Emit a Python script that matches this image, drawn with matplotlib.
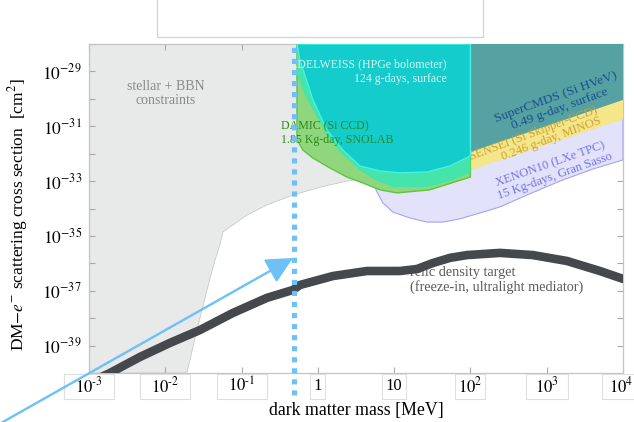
import matplotlib
matplotlib.use("Agg")
import matplotlib.pyplot as plt
from matplotlib.patches import Rectangle, FancyArrowPatch
from matplotlib.ticker import NullLocator, FixedLocator, FixedFormatter

plt.rcParams['font.family'] = ['Liberation Serif', 'DejaVu Serif']
plt.rcParams['mathtext.fontset'] = 'stix'

# ---------------- data (mass in MeV, cross section in cm^2) ----------------
# stellar + BBN excluded region: lower-right boundary
stellar_m = [1e-3, 0.0192, 0.0260, 0.0352, 0.0448, 0.0521, 0.0570, 0.118, 0.215,
             0.472, 1.066, 2.40, 4.40, 11.9, 100, 100, 1e-3]
stellar_s = [1e-40, 1e-40, 3.7e-39, 1.07e-37, 1.3e-36, 4.7e-36, 1.4e-35, 5.8e-35,
             1.35e-34, 3.1e-34, 6.0e-34, 1.0e-33, 1.29e-33, 2.1e-33, 5.9e-33, 1e-28, 1e-28]

# XENON10 region
xenon_m = [5.27, 5.95, 7.13, 9.64, 16.1, 26.9, 43.6, 72.8, 146, 244, 550, 1489, 4034,
           1e4, 1e4, 100, 5.0]
xenon_s = [9.3e-34, 4.0e-34, 1.6e-34, 7.4e-35, 4.5e-35, 3.2e-35, 3.2e-35, 4.2e-35,
           7.4e-35, 1.14e-34, 3.1e-34, 1.0e-33, 2.75e-33, 5.9e-33, 2.2e-31, 3.0e-33, 1.5e-33]

# SENSEI (Si Skipper-CCD) region
sensei_m = [100, 1e4, 1e4, 100]
sensei_s = [2.5e-33, 1.8e-31, 1e-28, 1e-28]

# SuperCDMS (Si HVeV) region
scdms_m = [100, 1e4, 1e4, 100]
scdms_s = [1.15e-32, 9.1e-31, 1e-28, 1e-28]

# DAMIC (Si CCD) region
damic_m = [0.532, 0.532, 0.638, 0.863, 1.441, 2.40, 3.90, 6.52, 10.9, 29.4, 100, 100]
damic_s = [1e-28, 3.2e-32, 1.35e-32, 6.9e-33, 3.0e-33, 1.41e-33, 8.5e-34, 4.8e-34,
           3.7e-34, 4.8e-34, 1.41e-33, 1e-28]

# overlap band (EDELWEISS over DAMIC)
band_m = [0.532, 0.532, 0.678, 0.863, 1.316, 2.13, 3.56, 5.60, 9.64, 26.9, 53.8, 100, 100]
band_s = [1e-28, 7.4e-30, 1.38e-30, 3.9e-31, 4.8e-32, 8.9e-33, 2.5e-33, 1.1e-33,
          6.0e-34, 6.0e-34, 1.0e-33, 2.0e-33, 1e-28]

# EDELWEISS (HPGe bolometer) region
edel_m = [0.532, 0.582, 0.863, 1.316, 2.13, 3.56, 6.52, 11.9, 26.9, 53.8, 100, 100]
edel_s = [1e-28, 2.6e-29, 9.1e-31, 7.2e-32, 1.35e-32, 3.55e-33, 2.34e-33, 2.0e-33,
          2.14e-33, 3.55e-33, 8.3e-33, 1e-28]

# relic density target (freeze-in, ultralight mediator)
relic_m = [0.0012, 0.00188, 0.00466, 0.0115, 0.0285, 0.077, 0.215, 0.472, 0.582, 1.578,
           4.40, 11.9, 19.9, 32.3, 53.8, 90, 244, 659, 1841, 4977, 1e4]
relic_s = [5.6e-41, 1e-40, 3.85e-40, 1.25e-39, 3.7e-39, 1.55e-38, 5.5e-38, 1.07e-37,
           1.62e-37, 3.45e-37, 5.25e-37, 5.25e-37, 6.2e-37, 1.03e-36, 1.58e-36, 2.0e-36,
           2.4e-36, 2.0e-36, 1.22e-36, 5.25e-37, 2.7e-37]

threshold_mass = 0.49  # MeV, dotted vertical line

x_ticks = [1e-3, 1e-2, 1e-1, 1, 10, 1e2, 1e3, 1e4]
x_tick_labels = [r'$10^{\text{-}3}$', r'$10^{\text{-}2}$', r'$10^{\text{-}1}$', '1', '10',
                 r'$10^{2}$', r'$10^{3}$', r'$10^{4}$']
y_ticks = [10.0 ** e for e in range(-40, -27)]
y_tick_labels = [r'$10^{%d}$' % e if e % 2 else '' for e in range(-40, -27)]

# --------------------------- figure ---------------------------
W, H = 634, 422
fig = plt.figure(figsize=(W / 100, H / 100), dpi=100)
ax = fig.add_axes([89 / W, 1 - 373 / H, 534 / W, 329 / H])
ax.set_xscale('log')
ax.set_yscale('log')
ax.set_xlim(1e-3, 1e4)
ax.set_ylim(1e-40, 1e-28)

ax.fill(stellar_m, stellar_s, fc='#e8e9e9', ec='#c9c9c9', lw=0.6, zorder=1)
ax.fill(xenon_m, xenon_s, fc='#e2e2fa', ec='#a4a4ee', lw=0.8, zorder=2)
ax.fill(sensei_m, sensei_s, fc='#f6e68a', ec='none', zorder=3)
ax.fill(scdms_m, scdms_s, fc='#56a2a2', ec='none', zorder=4)
ax.fill(damic_m, damic_s, fc='#90d67c', ec='#5ec43e', lw=1.0, zorder=5)
ax.fill(band_m, band_s, fc='#44e4aa', ec='none', zorder=6)
ax.fill(edel_m, edel_s, fc='#14cccc', ec='#44f2e2', lw=1.0, zorder=7)

ax.plot(relic_m, relic_s, color='#45484d', lw=6.2, solid_capstyle='round', zorder=9)

ax.axvline(threshold_mass, ymin=-22 / 329, ymax=1, color='#6ec0f8', lw=3.7,
           linestyle=(0, (1, 1.15)), dash_capstyle='butt', clip_on=False, zorder=12)

# texts
T = ax.transAxes
ax.text(0.144, 0.851, 'stellar + BBN\nconstraints', transform=T, ha='center', va='center',
        fontsize=10, color='#8a8a8a', linespacing=1.1, zorder=8)
ax.text(0.670, 0.916, 'EDELWEISS (HPGe bolometer)\n124 g-days, surface', transform=T,
        ha='right', va='center', multialignment='right', fontsize=8.6, color='#d2f6f4',
        linespacing=1.2, zorder=8)
ax.text(0.3596, 0.728, 'DAMIC (Si CCD)\n1.85 Kg-day, SNOLAB', transform=T, ha='left',
        va='center', fontsize=8.6, color='#2a8c1e', linespacing=1.2, zorder=8)
ax.text(0.878, 0.821, 'SuperCMDS (Si HVeV)\n0.49 g-day, surface', transform=T,
        ha='center', va='center', rotation=20, rotation_mode='anchor', fontsize=9.6,
        color='#1c4f8e', linespacing=1.0, zorder=8)
ax.text(0.836, 0.712, 'SENSEI (Si Skipper-CCD)\n0.246 g-day, MINOS', transform=T,
        ha='center', va='center', multialignment='right', rotation=20.5,
        rotation_mode='anchor', fontsize=9.0, color='#c8a235', linespacing=1.0,
        zorder=6.5)
ax.text(0.868, 0.617, 'XENON10 (LXe TPC)\n15 Kg-days, Gran Sasso', transform=T,
        ha='center', va='center', rotation=19.5, rotation_mode='anchor', fontsize=9.0,
        color='#7272ee', linespacing=1.05, zorder=8)
ax.text(0.601, 0.283, 'relic density target\n(freeze-in, ultralight mediator)', transform=T,
        ha='left', va='center', fontsize=10.3, color='#5a5a5a', linespacing=1.1, zorder=8.5)

# axes styling
for sp in ax.spines.values():
    sp.set_color('#c4c4c4')
    sp.set_linewidth(0.9)
ax.xaxis.set_major_locator(FixedLocator(x_ticks))
ax.xaxis.set_minor_locator(NullLocator())
ax.yaxis.set_major_locator(FixedLocator(y_ticks))
ax.yaxis.set_major_formatter(FixedFormatter(y_tick_labels))
ax.yaxis.set_minor_locator(NullLocator())
ax.tick_params(which='both', direction='in', top=True, right=True, length=4,
               width=0.8, color='#a8a8a8')
ax.tick_params(axis='x', labelbottom=False)
ax.tick_params(axis='y', labelsize=12.5, pad=5)

ax.set_ylabel(r'DM$-e^{-}$ scattering cross section  [cm$^{2}$]', fontsize=12.5)
ax.yaxis.set_label_coords(-0.110, 0.48)
fig.text(356 / W, 1 - 410 / H, 'dark matter mass [MeV]', ha='center', va='center',
         fontsize=12.8)

# boxed x tick labels
box_widths = [50, 50, 50, 15, 24, 30, 42, 42]
for v, lab, bw in zip(x_ticks, x_tick_labels, box_widths):
    px = ax.transData.transform((v, 1e-40))[0]
    fig.add_artist(Rectangle(((px - bw / 2) / W, 1 - 399 / H), bw / W, 25 / H,
                             transform=fig.transFigure, fc='white', ec='#dedede',
                             lw=0.8, zorder=2))
    fig.text(min(px, 621) / W, 1 - 386.5 / H, lab, ha='center', va='center',
             fontsize=12, zorder=3)

# empty box at top
fig.add_artist(Rectangle((157 / W, 1 - 37 / H), 326 / W, 0.2, transform=fig.transFigure,
                         fc='white', ec='#d4d4d4', lw=0.9, zorder=2))

# arrow
fig.add_artist(FancyArrowPatch((0.0, 1 - 423.6 / H), (293 / W, 1 - 258 / H),
                               transform=fig.transFigure,
                               arrowstyle='-|>,head_length=0.9,head_width=0.45',
                               mutation_scale=18, lw=1.7, color='#6ec0f8',
                               shrinkA=0, shrinkB=0, zorder=6))

fig.savefig('out.png', dpi=100)
